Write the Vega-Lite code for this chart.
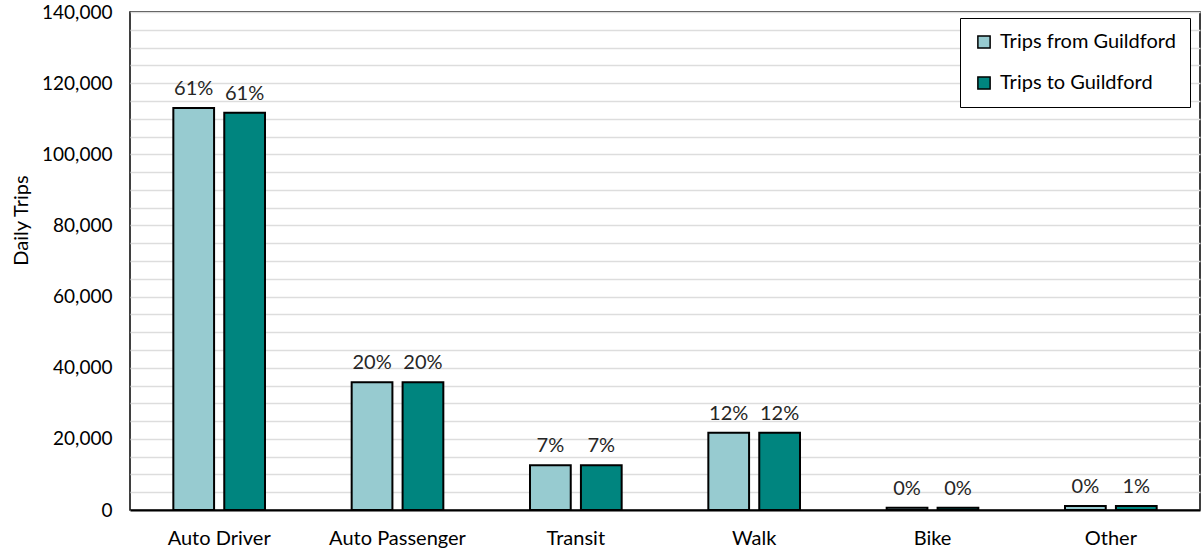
{
  "$schema": "https://vega.github.io/schema/vega-lite/v6.json",
  "width": 1070,
  "height": 498,
  "autosize": {"type": "none"},
  "padding": {"left": 130, "top": 12, "right": 3, "bottom": 42},
  "config": {
    "font": "Lato",
    "view": {"stroke": "#000000", "strokeWidth": 1.5},
    "axis": {"labelFont": "Lato", "titleFont": "Lato", "labelColor": "#262626", "titleColor": "#000000"}
  },
  "data": {
    "values": [
      {"mode": "Auto Driver", "direction": "Trips from Guildford", "trips": 113000, "pct": "61%"},
      {"mode": "Auto Driver", "direction": "Trips to Guildford", "trips": 111700, "pct": "61%"},
      {"mode": "Auto Passenger", "direction": "Trips from Guildford", "trips": 35900, "pct": "20%"},
      {"mode": "Auto Passenger", "direction": "Trips to Guildford", "trips": 35900, "pct": "20%"},
      {"mode": "Transit", "direction": "Trips from Guildford", "trips": 12600, "pct": "7%"},
      {"mode": "Transit", "direction": "Trips to Guildford", "trips": 12600, "pct": "7%"},
      {"mode": "Walk", "direction": "Trips from Guildford", "trips": 21700, "pct": "12%"},
      {"mode": "Walk", "direction": "Trips to Guildford", "trips": 21700, "pct": "12%"},
      {"mode": "Bike", "direction": "Trips from Guildford", "trips": 600, "pct": "0%"},
      {"mode": "Bike", "direction": "Trips to Guildford", "trips": 600, "pct": "0%"},
      {"mode": "Other", "direction": "Trips from Guildford", "trips": 1100, "pct": "0%"},
      {"mode": "Other", "direction": "Trips to Guildford", "trips": 1100, "pct": "1%"}
    ]
  },
  "encoding": {
    "x": {
      "field": "mode", "type": "nominal", "sort": null,
      "scale": {"paddingInner": 0.486, "paddingOuter": 0.243},
      "axis": {"title": null, "labelAngle": 0, "labelFontSize": 20, "labelPadding": 18, "ticks": false, "domainColor": "#000000", "domainWidth": 2, "labelColor": "#000000"}
    },
    "xOffset": {
      "field": "direction", "type": "nominal",
      "scale": {"paddingInner": 0.2, "paddingOuter": 0}
    },
    "y": {
      "field": "trips", "type": "quantitative",
      "scale": {"domain": [0, 140000], "nice": false},
      "axis": {
        "title": "Daily Trips", "titleFontSize": 20, "titleFontWeight": "normal", "titlePadding": 10, "titleY": 208,
        "values": [0,5000,10000,15000,20000,25000,30000,35000,40000,45000,50000,55000,60000,65000,70000,75000,80000,85000,90000,95000,100000,105000,110000,115000,120000,125000,130000,135000,140000],
        "labelExpr": "datum.value % 20000 === 0 ? format(datum.value, ',') : ''",
        "labelFontSize": 19, "labelPadding": 18, "labelColor": "#000000",
        "ticks": false, "domain": false,
        "grid": true, "gridColor": "#DDDDDD", "gridWidth": 1.3
      }
    }
  },
  "layer": [
    {
      "mark": {"type": "bar", "stroke": "#000000", "strokeWidth": 2},
      "encoding": {
        "color": {
          "field": "direction", "type": "nominal",
          "scale": {"domain": ["Trips from Guildford", "Trips to Guildford"], "range": ["#97CBD0", "#00857F"]},
          "legend": {
            "title": null, "orient": "none", "legendX": 830, "legendY": 6,
            "symbolType": "square", "symbolSize": 150, "symbolStrokeColor": "#000000", "symbolStrokeWidth": 1.5,
            "labelFontSize": 20, "labelColor": "#000000", "labelFont": "Lato", "labelLimit": 400,
            "rowPadding": 21, "padding": 14, "fillColor": "#FFFFFF", "strokeColor": "#000000",
            "labelOffset": 6, "symbolOpacity": 1
          }
        }
      }
    },
    {
      "mark": {"type": "text", "baseline": "bottom", "dy": -9, "fontSize": 20, "color": "#262626"},
      "encoding": {"text": {"field": "pct"}}
    }
  ]
}
